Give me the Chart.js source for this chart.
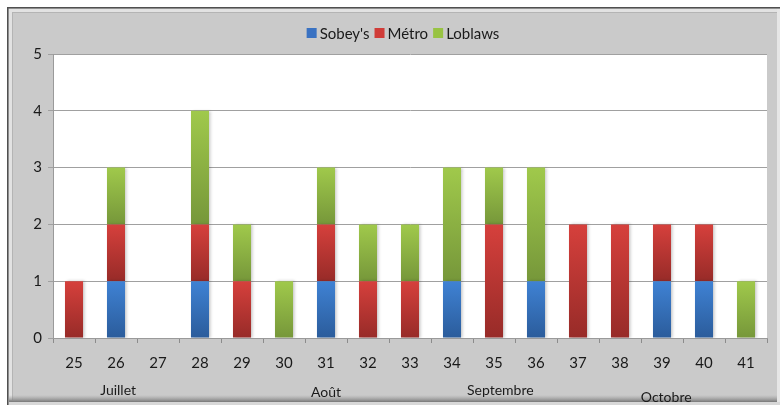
<!DOCTYPE html>
<html>
<head>
<meta charset="utf-8">
<script src="https://cdn.jsdelivr.net/npm/chart.js@4"></script>
<style>
    html, body { margin: 0; padding: 0; background: #fff; }
    #wrap { width: 780px; height: 405px; }
</style>
</head>
<body>
<div id="wrap"><canvas id="chart" width="780" height="405"></canvas></div>
<script>
(function() {
    'use strict';

    // ============================================================
    // DATA
    // ============================================================
    const weeks   = ['25','26','27','28','29','30','31','32','33','34','35','36','37','38','39','40','41'];
    const sobeys  = [0, 1, 0, 1, 0, 0, 1, 0, 0, 1, 0, 1, 0, 0, 1, 1, 0];
    const metro   = [1, 1, 0, 1, 1, 0, 1, 1, 1, 0, 2, 0, 2, 2, 1, 1, 0];
    const loblaws = [0, 1, 0, 2, 1, 1, 1, 1, 1, 2, 1, 2, 0, 0, 0, 0, 1];
    const yTicks  = [0, 1, 2, 3, 4, 5];

    const months     = ['Juillet', 'Août', 'Septembre', 'Octobre'];
    const monthWeeks = [26.05, 31, 35.15, 39.1];

    const FONT = 'Lato, "Open Sans", sans-serif';

    // light (top) / dark (bottom) gradient stops per series
    const palette = [
        { legend: '#3a72c2', top: '#3f82d4', bottom: '#2b5c9b' },
        { legend: '#d03c38', top: '#d6403c', bottom: '#972b28' },
        { legend: '#98c343', top: '#a0c94b', bottom: '#76973a' }
    ];

    const names  = ["Sobey's", 'Métro', 'Loblaws'];
    const series = [sobeys, metro, loblaws];

    // gradient per stacked segment
    function segmentFill(dsIndex) {
        return function(ctx) {
            const chart = ctx.chart;
            const area = chart.chartArea;
            const p = palette[dsIndex];
            if (!area || ctx.type !== 'data') return p.legend;
            const i = ctx.dataIndex;
            let base = 0;
            for (let k = 0; k < dsIndex; k++) base += series[k][i];
            const top = base + series[dsIndex][i];
            const y = chart.scales.y;
            const y0 = y.getPixelForValue(top);
            const y1 = y.getPixelForValue(base);
            if (!(y1 > y0)) return p.legend;
            const g = chart.ctx.createLinearGradient(0, y0, 0, y1);
            g.addColorStop(0, p.top);
            g.addColorStop(1, p.bottom);
            return g;
        };
    }

    // ============================================================
    // PLUGINS
    // ============================================================
    const framePlugin = {
        id: 'frame',
        beforeDraw(chart) {
            const c = chart.ctx;
            const W = chart.width, H = chart.height;
            const a = chart.chartArea;
            c.save();
            c.fillStyle = '#ffffff';
            c.fillRect(0, 0, W, H);
            // gray panel
            c.fillStyle = '#cacaca';
            c.fillRect(7, 7, W - 7, H - 7);
            // bevel
            c.fillStyle = '#e2e2e2';
            c.fillRect(9, 9, W - 9, 3);
            c.fillRect(9, 9, 3, H - 14);
            c.fillStyle = '#b4b4b4';
            c.fillRect(12, 12, W - 12, 1);
            c.fillRect(12, 12, 1, H - 17);
            // outer dark edge
            c.fillStyle = '#505050';
            c.fillRect(7, 7, W - 7, 1.5);
            c.fillRect(7, 7, 1.5, H - 7);
            // bottom shadow
            const g = c.createLinearGradient(0, H - 10, 0, H - 3);
            g.addColorStop(0, 'rgba(150,150,150,0)');
            g.addColorStop(1, 'rgba(110,110,110,0.9)');
            c.fillStyle = g;
            c.fillRect(9, H - 10, W - 9, 7);
            c.fillStyle = '#d8d8d8';
            c.fillRect(9, H - 3, W - 9, 3);
            // right edge
            c.fillStyle = '#e6e6e6';
            c.fillRect(W - 3, 9, 3, H - 12);
            // plot area
            c.fillStyle = '#ffffff';
            c.fillRect(a.left, a.top, a.right - a.left, a.bottom - a.top);
            c.restore();
        },
        beforeDatasetsDraw(chart) {
            const c = chart.ctx;
            c.save();
            c.shadowColor = 'rgba(0,0,0,0.22)';
            c.shadowBlur = 3;
            c.shadowOffsetX = 2;
            c.shadowOffsetY = 0;
        },
        afterDatasetsDraw(chart) {
            chart.ctx.restore();
        }
    };

    // compact legend: box, 2px gap, text, 5px gap
    const legendPlugin = {
        id: 'compactLegend',
        afterDraw(chart) {
            const c = chart.ctx;
            const a = chart.chartArea;
            const box = 10, gapText = 3, gapItem = 5;
            c.save();
            c.font = '15px ' + FONT;
            const widths = names.map(n => c.measureText(n).width);
            const total = widths.reduce((s, w) => s + box + gapText + w, 0) + gapItem * (names.length - 1);
            let x = (a.left + a.right) / 2 - 7 - total / 2;
            const yMid = 33;
            c.textBaseline = 'middle';
            c.textAlign = 'left';
            names.forEach((n, i) => {
                c.fillStyle = palette[i].legend;
                c.fillRect(x, yMid - box / 2, box, box);
                x += box + gapText;
                c.fillStyle = '#1a1a1a';
                c.fillText(n, x, yMid + 1);
                x += widths[i] + gapItem;
            });
            c.restore();
        }
    };

    const monthPlugin = {
        id: 'months',
        afterDraw(chart) {
            const c = chart.ctx;
            const x = chart.scales.x;
            const base = chart.chartArea.bottom;
            const dy = [52, 54, 52, 59];
            c.save();
            c.font = '14px ' + FONT;
            c.fillStyle = '#1a1a1a';
            c.textAlign = 'center';
            c.textBaseline = 'middle';
            months.forEach((m, i) => {
                c.fillText(m, x.getPixelForValue(monthWeeks[i] - 25), base + dy[i]);
            });
            c.restore();
        }
    };

    // ============================================================
    // CHART
    // ============================================================
    new Chart(document.getElementById('chart').getContext('2d'), {
        type: 'bar',
        data: {
            labels: weeks,
            datasets: series.map((d, i) => ({
                label: names[i],
                data: d,
                backgroundColor: segmentFill(i),
                borderWidth: 0,
                barPercentage: 0.43,
                categoryPercentage: 1.0
            }))
        },
        options: {
            responsive: false,
            animation: false,
            layout: { padding: { left: 18, right: 13, top: 54, bottom: 0 } },
            scales: {
                x: {
                    stacked: true,
                    grid: {
                        offset: true,
                        drawOnChartArea: false,
                        color: '#8c8c8c',
                        tickLength: 5
                    },
                    border: { color: '#9a9a9a' },
                    ticks: {
                        color: '#1a1a1a',
                        font: { family: FONT, size: 15 },
                        padding: 11,
                        maxRotation: 0
                    },
                    afterFit(scale) { scale.height = 67; }
                },
                y: {
                    stacked: true,
                    min: 0,
                    max: 5,
                    afterBuildTicks(scale) {
                        scale.ticks = yTicks.map(v => ({ value: v }));
                    },
                    grid: { color: '#a0a0a0', tickLength: 5 },
                    border: { color: '#9a9a9a' },
                    ticks: {
                        color: '#1a1a1a',
                        font: { family: FONT, size: 15 },
                        padding: 6
                    },
                    afterFit(scale) { scale.width = 35; }
                }
            },
            plugins: {
                legend: { display: false },
                tooltip: { enabled: false }
            }
        },
        plugins: [framePlugin, legendPlugin, monthPlugin]
    });
})();
</script>
</body>
</html>
